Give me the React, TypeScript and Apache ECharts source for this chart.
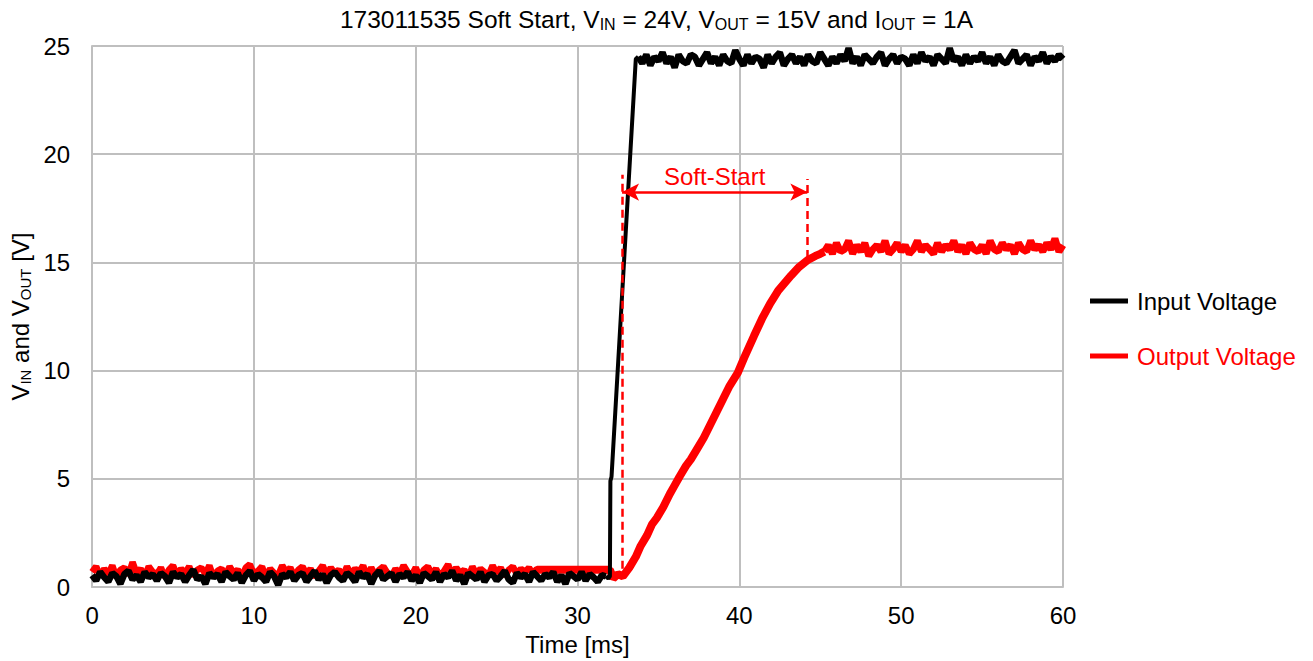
import React, { useEffect, useRef } from "react";
import * as echarts from "echarts";

// ---------- data ----------
const STEP = 0.25; // ms sampling of the hand-read noisy segments

// Input voltage, 0 .. 31.75 ms
const inputLow = [
  0.55,0.3,0.7,0.45,0.25,0.65,0.5,0.15,0.6,0.75,0.35,0.55,0.25,0.7,0.45,0.6,
  0.3,0.65,0.5,0.2,0.7,0.45,0.6,0.25,0.55,0.8,0.35,0.5,0.15,0.65,0.45,0.6,
  0.25,0.7,0.5,0.35,0.65,0.2,0.55,0.75,0.3,0.6,0.45,0.25,0.7,0.5,0.1,0.6,
  0.45,0.7,0.3,0.55,0.65,0.25,0.5,0.75,0.35,0.6,0.2,0.55,0.7,0.45,0.3,0.65,
  0.5,0.25,0.7,0.45,0.6,0.15,0.55,0.75,0.35,0.5,0.65,0.25,0.6,0.45,0.7,0.3,
  0.55,0.2,0.65,0.5,0.35,0.7,0.25,0.6,0.45,0.75,0.3,0.55,0.15,0.65,0.5,0.35,
  0.7,0.25,0.55,0.6,0.3,0.5,0.75,0.35,0.2,0.65,0.45,0.6,0.25,0.7,0.5,0.3,
  0.6,0.45,0.7,0.25,0.55,0.15,0.65,0.5,0.35,0.7,0.3,0.6,0.45,0.25,0.55,0.5,
];
const inputLowStart = 0;
// Input rise [ms, V]
const inputRise: [number, number][] = [
  [31.75, 0.5], [31.9, 0.4], [32.0, 0.5], [32.03, 4.9], [32.1, 5.1], [33.6, 24.4], [33.75, 24.5],
];
// Input voltage, 33.75 .. 60 ms
const inputHigh = [
  24.5,24.2,24.6,24.1,24.5,24.3,24.7,24.2,24.5,24.0,24.6,24.3,24.2,24.6,24.5,24.1,
  24.4,24.7,24.2,24.5,24.1,24.6,24.3,24.2,24.8,24.4,24.1,24.6,24.2,24.5,24.4,24.0,
  24.6,24.2,24.5,24.7,24.1,24.4,24.6,24.2,24.5,24.1,24.6,24.3,24.2,24.7,24.4,24.1,
  24.5,24.2,24.6,24.3,24.9,24.2,24.5,24.1,24.6,24.4,24.2,24.5,24.7,24.1,24.4,24.6,
  24.2,24.5,24.4,24.1,24.6,24.2,24.7,24.3,24.5,24.1,24.6,24.4,24.2,24.9,24.3,24.5,
  24.1,24.6,24.2,24.5,24.3,24.7,24.2,24.5,24.1,24.6,24.3,24.2,24.5,24.8,24.2,24.4,
  24.6,24.1,24.5,24.3,24.7,24.2,24.5,24.3,24.6,24.4,
];
const inputHighStart = 33.75;

// Output voltage, 0 .. 27.25 ms
const outputLow = [
  0.7,0.95,0.5,0.85,0.6,1.0,0.45,0.8,0.9,0.55,1.15,0.65,0.85,0.5,0.95,0.7,
  0.6,0.9,0.45,0.8,1.0,0.55,0.85,0.65,0.95,0.5,0.8,0.9,0.6,1.0,0.45,0.75,
  0.85,0.55,0.95,0.65,0.8,0.5,0.9,1.05,0.6,0.75,0.95,0.45,0.85,0.65,0.55,1.0,
  0.7,0.9,0.5,0.8,0.95,0.6,0.85,0.45,0.75,1.0,0.55,0.9,0.65,0.8,0.5,0.95,
  0.6,0.85,0.7,1.0,0.45,0.9,0.55,0.8,0.95,0.65,0.5,0.85,0.6,1.0,0.7,0.55,
  0.9,0.45,0.8,0.95,0.6,0.85,0.5,0.75,1.05,0.55,0.9,0.65,0.8,0.45,0.95,0.6,
  0.85,0.7,0.55,1.0,0.65,0.9,0.5,0.8,0.95,0.6,0.85,0.7,0.9,0.6,
];
const outputLowStart = 0;
// Output soft-start ramp [ms, V]
const outputRamp: [number, number][] = [
  [27.25, 0.6], [27.5, 0.8], [32.0, 0.8], [32.2, 0.4], [32.5, 0.6], [32.8, 0.5], [33.2, 0.9],
  [33.6, 1.4], [33.9, 1.9], [34.3, 2.4], [34.6, 2.9], [34.9, 3.2], [35.3, 3.7],
  [35.7, 4.3], [36.0, 4.7], [36.3, 5.1], [36.7, 5.6], [37.0, 5.9], [37.4, 6.4],
  [37.8, 6.9], [38.2, 7.5], [38.6, 8.1], [39.0, 8.7], [39.4, 9.3], [39.9, 9.9],
  [40.3, 10.6], [40.9, 11.6], [41.4, 12.4], [41.9, 13.1], [42.4, 13.7],
  [43.2, 14.4], [43.7, 14.8], [44.2, 15.1], [44.7, 15.3], [45.0, 15.4], [45.25, 15.5],
];
// Output voltage, 45.25 .. 60 ms
const outputHigh = [
  15.5,15.8,15.4,15.9,15.5,15.6,16.0,15.4,15.8,15.5,15.9,15.3,15.6,15.8,15.5,16.0,
  15.4,15.6,15.9,15.5,15.8,15.4,15.6,16.0,15.5,15.8,15.6,15.4,15.9,15.5,15.8,15.6,
  16.0,15.5,15.8,15.4,15.9,15.6,15.5,15.8,15.4,16.0,15.6,15.5,15.9,15.6,15.8,15.4,
  15.9,15.6,15.5,16.0,15.6,15.8,15.5,15.9,15.6,16.1,15.5,15.8,
];
const outputHighStart = 45.25;

// Soft-start annotation [ms, V]
const softStartT0 = 32.75;
const softStartT1 = 44.2;
const softStartLeftV: [number, number] = [0.85, 19.05];
const softStartRightV: [number, number] = [15.2, 18.85];
const softStartArrowV = 18.25;

const xTicks = { min: 0, max: 60, interval: 10 };
const yTicks = { min: 0, max: 25, interval: 5 };

const seriesNames = ["Input Voltage", "Output Voltage"];

// ---------- helpers ----------
function sampled(vals: number[], start: number): [number, number][] {
  return vals.map((v, i) => [+(start + i * STEP).toFixed(3), v]);
}

const FONT = "Liberation Sans, Arial, sans-serif";
const GRID = "#bfbfbf";
const FS = 24;
const RED = "#ff0000";
const BLACK = "#000000";

function lineSeries(name: string, data: [number, number][], color: string, width: number, z: number, extra: any = {}) {
  return {
    name,
    type: "line",
    data,
    showSymbol: false,
    symbol: "none",
    color,
    lineStyle: { color, width },
    z,
    ...extra,
  };
}

export default function App() {
  const ref = useRef<HTMLDivElement>(null);
  useEffect(() => {
    if (!ref.current) return;
    const chart = echarts.init(ref.current, undefined, { renderer: "svg" });
    const dashStyle = { type: [8, 5] as any, color: RED, width: 2.5 };
    const markLine = {
      silent: true,
      symbol: "none",
      animation: false,
      data: [
        [
          { coord: [softStartT0, softStartLeftV[0]], lineStyle: dashStyle, label: { show: false } },
          { coord: [softStartT0, softStartLeftV[1]] },
        ],
        [
          { coord: [softStartT1, softStartRightV[0]], lineStyle: dashStyle, label: { show: false } },
          { coord: [softStartT1, softStartRightV[1]] },
        ],
        [
          {
            coord: [softStartT0, softStartArrowV],
            symbol: "arrow",
            symbolSize: [13, 17],
            lineStyle: { type: "solid", color: RED, width: 2.5 },
            label: {
              show: true,
              position: "insideMiddleTop",
              formatter: "Soft-Start",
              color: RED,
              fontFamily: FONT,
              fontSize: FS,
              distance: 4,
            },
          },
          { coord: [softStartT1, softStartArrowV], symbol: "arrow", symbolSize: [13, 17] },
        ],
      ],
    };
    chart.setOption({
      animation: false,
      textStyle: { fontFamily: FONT },
      title: {
        text: "173011535 Soft Start, V{s|IN} = 24V, V{s|OUT} = 15V and I{s|OUT} = 1A",
        left: "center",
        top: 1,
        textStyle: {
          fontFamily: FONT,
          fontSize: 24.5,
          fontWeight: "normal",
          color: BLACK,
          rich: {
            s: { fontSize: 16, fontFamily: FONT, color: BLACK, padding: [10, 0, 0, 0] },
          },
        },
      },
      grid: { left: 90, right: 250, top: 46, bottom: 72, containLabel: false },
      legend: {
        orient: "vertical",
        left: 1085,
        top: 284,
        itemGap: 31,
        itemWidth: 38,
        itemHeight: 5,
        icon: "rect",
        textStyle: { fontFamily: FONT, fontSize: FS, padding: [0, 0, 0, 4] },
        data: [
          { name: seriesNames[0], textStyle: { color: BLACK } },
          { name: seriesNames[1], textStyle: { color: RED } },
        ],
      },
      xAxis: {
        type: "value",
        min: xTicks.min,
        max: xTicks.max,
        interval: xTicks.interval,
        name: "Time [ms]",
        nameLocation: "middle",
        nameGap: 44,
        nameTextStyle: { fontFamily: FONT, fontSize: FS, color: BLACK },
        axisLine: { lineStyle: { color: GRID, width: 2 } },
        axisTick: { show: false },
        axisLabel: { fontFamily: FONT, fontSize: FS, color: BLACK, margin: 16 },
        splitLine: { show: true, lineStyle: { color: GRID, width: 2 } },
      },
      yAxis: {
        type: "value",
        min: yTicks.min,
        max: yTicks.max,
        interval: yTicks.interval,
        name: "V{s|IN} and V{s|OUT} [V]",
        nameLocation: "middle",
        nameGap: 56,
        nameTextStyle: {
          fontFamily: FONT,
          fontSize: FS,
          color: BLACK,
          rich: { s: { fontSize: 15, fontFamily: FONT, color: BLACK, padding: [10, 0, 0, 0] } },
        },
        axisLine: { show: true, lineStyle: { color: GRID, width: 2 } },
        axisTick: { show: false },
        axisLabel: { fontFamily: FONT, fontSize: FS, color: BLACK, margin: 22 },
        splitLine: { show: true, lineStyle: { color: GRID, width: 2 } },
      },
      series: [
        lineSeries(seriesNames[1], sampled(outputLow, outputLowStart), RED, 6.5, 2),
        lineSeries(seriesNames[1], outputRamp, RED, 8, 2, { markLine }),
        lineSeries(seriesNames[1], sampled(outputHigh, outputHighStart), RED, 7, 2),
        lineSeries(seriesNames[0], sampled(inputLow, inputLowStart), BLACK, 6.5, 3),
        lineSeries(seriesNames[0], inputRise, BLACK, 4, 3),
        lineSeries(seriesNames[0], sampled(inputHigh, inputHighStart), BLACK, 6.5, 3),
      ],
    });
    return () => chart.dispose();
  }, []);
  return (
    <div
      ref={ref}
      style={{ position: "absolute", left: 0, top: 0, width: 1313, height: 661 }}
    />
  );
}
